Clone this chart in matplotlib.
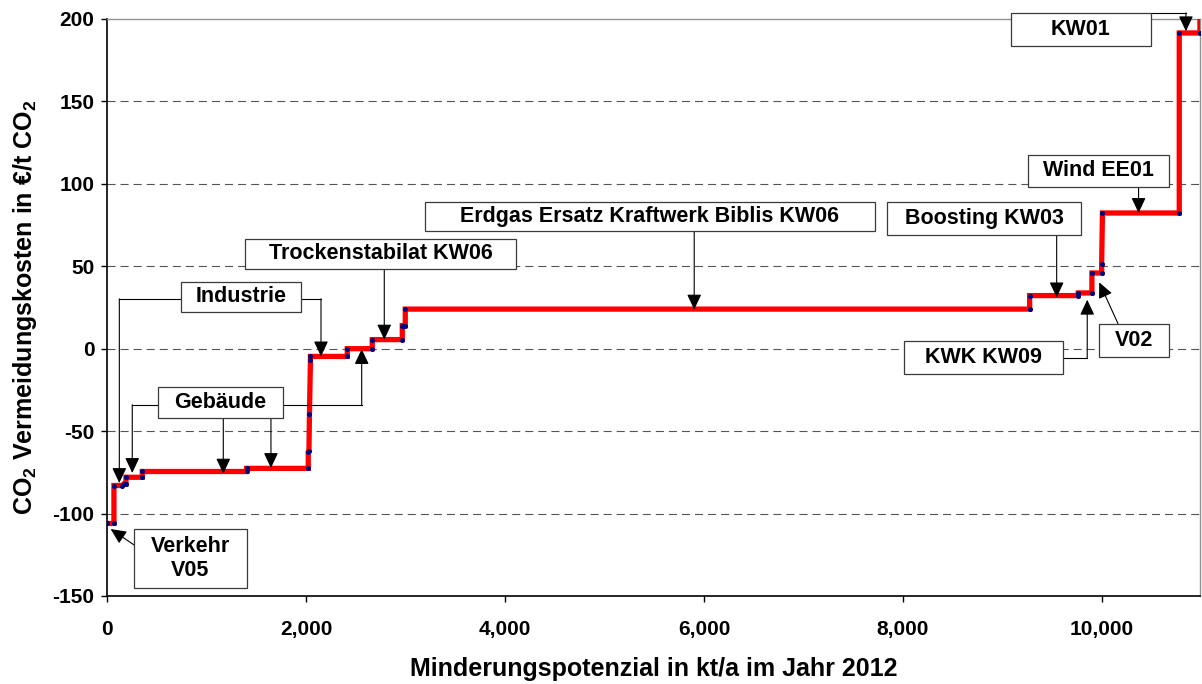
"""CO2 Vermeidungskostenkurve (MACC) - Minderungspotenzial 2012"""

import matplotlib

matplotlib.use('Agg')
import matplotlib.pyplot as plt
from matplotlib.patches import Rectangle
from matplotlib.ticker import FuncFormatter

# step curve points (cumulative potential kt/a, cost EUR/t)
cum_potential = [0, 70, 70, 154, 170, 191, 191, 355, 355, 1404, 1404, 2023, 2023, 2030, 2035, 2045,
                 2045, 2415, 2415, 2666, 2666, 2968, 2968, 2998, 2998, 9273, 9273, 9762, 9762, 9899,
                 9899, 9997, 9997, 10005, 10777, 10777, 10985, 10985]
avoid_cost = [-106, -106, -83, -83, -82, -82, -78, -78, -74.5, -74.5, -72.6, -72.6, -62.5, -62.0, -39.6, -6.7,
              -4.7, -4.7, 0, 0, 5.5, 5.5, 14, 14, 24, 24, 32.2, 32.2, 33.8, 33.8,
              45.9, 45.9, 51.4, 82.3, 82.3, 191.5, 191.5, 260]

x_ticks = [0, 2000, 4000, 6000, 8000, 10000]
y_ticks = [-150, -100, -50, 0, 50, 100, 150, 200]

# labels: text, box (x0, x1, y0, y1), connector paths (last point = arrow tip)
labels = [
    ('Industrie', (744, 1950, 22.5, 40.7),
     [[(744, 30.2), (124, 30.2), (124, -81.5)],
      [(1950, 30.2), (2151, 30.2), (2151, -4.7)]]),
    ('Gebäude', (513, 1769, -41.9, -23.1),
     [[(513, -34), (254, -34), (254, -75.4)],
      [(1169, -41.9), (1169, -75.8)],
      [(1648, -41.9), (1648, -72.4)],
      [(1769, -34), (2560, -34), (2560, -0.2)]]),
    ('Verkehr\nV05', (271, 1407, -145.0, -109.2),
     [[(271, -119), (37, -109.4)]]),
    ('Trockenstabilat KW06', (1387, 4110, 48.5, 66.7),
     [[(2787, 48.5), (2787, 5.5)]]),
    ('Erdgas Ersatz Kraftwerk Biblis KW06', (3196, 7718, 71.6, 89.2),
     [[(5902, 71.6), (5902, 23.7)]]),
    ('Boosting KW03', (7839, 9789, 69.2, 89.2),
     [[(9545, 69.2), (9545, 31.1)]]),
    ('KWK KW09', (8010, 9608, -15.2, 4.9),
     [[(9608, -5.6), (9852, -5.6), (9852, 29.7)]]),
    ('V02', (9970, 10673, -4.9, 15.2),
     [[(10161, 15.2), (9973, 40.2)]]),
    ('Wind EE01', (9256, 10673, 98.3, 117.7),
     [[(10368, 98.3), (10368, 82.3)]]),
    ('KW01', (9085, 10492, 183.3, 203.9),
     [[(10492, 203.7), (10844, 203.7), (10844, 192.5)]]),
]

plt.rcParams['font.family'] = ['Liberation Sans', 'DejaVu Sans']
plt.rcParams['font.weight'] = 'bold'
plt.rcParams['axes.unicode_minus'] = False
plt.rcParams['lines.scale_dashes'] = False
plt.rcParams['mathtext.fontset'] = 'custom'
plt.rcParams['mathtext.rm'] = 'Liberation Sans:bold'
plt.rcParams['mathtext.it'] = 'Liberation Sans:bold'
plt.rcParams['mathtext.bf'] = 'Liberation Sans:bold'

fig = plt.figure(figsize=(12.02, 6.84), dpi=100)
ax = fig.add_axes([0.0890, 0.1287, 0.9093, 0.8436])

# dashed grid
for yv in y_ticks[1:-1]:
    ax.axhline(yv, color='#555555', lw=0.8, dashes=(5.8, 3.6), zorder=1)

# step curve
ax.plot(cum_potential, avoid_cost, color='#ff0000', lw=3.8, zorder=3,
        marker='o', markersize=2.6, markerfacecolor='#000080', markeredgecolor='#000080',
        solid_joinstyle='miter')

ax.set_xlim(0, 10985)
ax.set_ylim(-150, 200)
ax.set_xticks(x_ticks)
ax.set_yticks(y_ticks)
ax.xaxis.set_major_formatter(FuncFormatter(lambda v, p: f'{int(v):,}'))
ax.tick_params(axis='both', direction='out', length=4, width=1, labelsize=15, colors='black')
ax.tick_params(axis='y', pad=5)
ax.tick_params(axis='x', pad=13)
for lab in ax.get_xticklabels() + ax.get_yticklabels():
    lab.set_fontweight('bold')

for side in ['left', 'bottom']:
    ax.spines[side].set_color('black')
    ax.spines[side].set_linewidth(1.2)
for side in ['top', 'right']:
    ax.spines[side].set_color('#909090')
    ax.spines[side].set_linewidth(1.0)

# label boxes with connectors
for text, (x0, x1, y0, y1), paths in labels:
    for path in paths:
        if len(path) > 2:
            xs = [p[0] for p in path[:-1]]
            ys = [p[1] for p in path[:-1]]
            ax.plot(xs, ys, color='black', lw=0.8, zorder=4, clip_on=False)
        ax.annotate('', xy=path[-1], xytext=path[-2], zorder=5, annotation_clip=False,
                    arrowprops=dict(arrowstyle='-|>,head_length=0.47,head_width=0.22',
                                    mutation_scale=20, color='black', lw=0.8,
                                    shrinkA=0, shrinkB=0))
    ax.add_patch(Rectangle((x0, y0), x1 - x0, y1 - y0, facecolor='white',
                           edgecolor='#3a3a3a', lw=0.9, zorder=6, clip_on=False))
    ax.text((x0 + x1) / 2, (y0 + y1) / 2, text, ha='center', va='center', fontsize=15.5,
            fontweight='bold', zorder=7, linespacing=1.2, clip_on=False)

fig.text(654 / 1202, 1 - 669 / 684, 'Minderungspotenzial in kt/a im Jahr 2012',
         ha='center', va='center', fontsize=18, fontweight='bold')
fig.text(25 / 1202, 1 - 307.5 / 684, r'CO$_2$ Vermeidungskosten in €/t CO$_2$',
         ha='center', va='center', rotation=90, fontsize=18, fontweight='bold')

fig.savefig('out.png', dpi=100)
plt.close()
